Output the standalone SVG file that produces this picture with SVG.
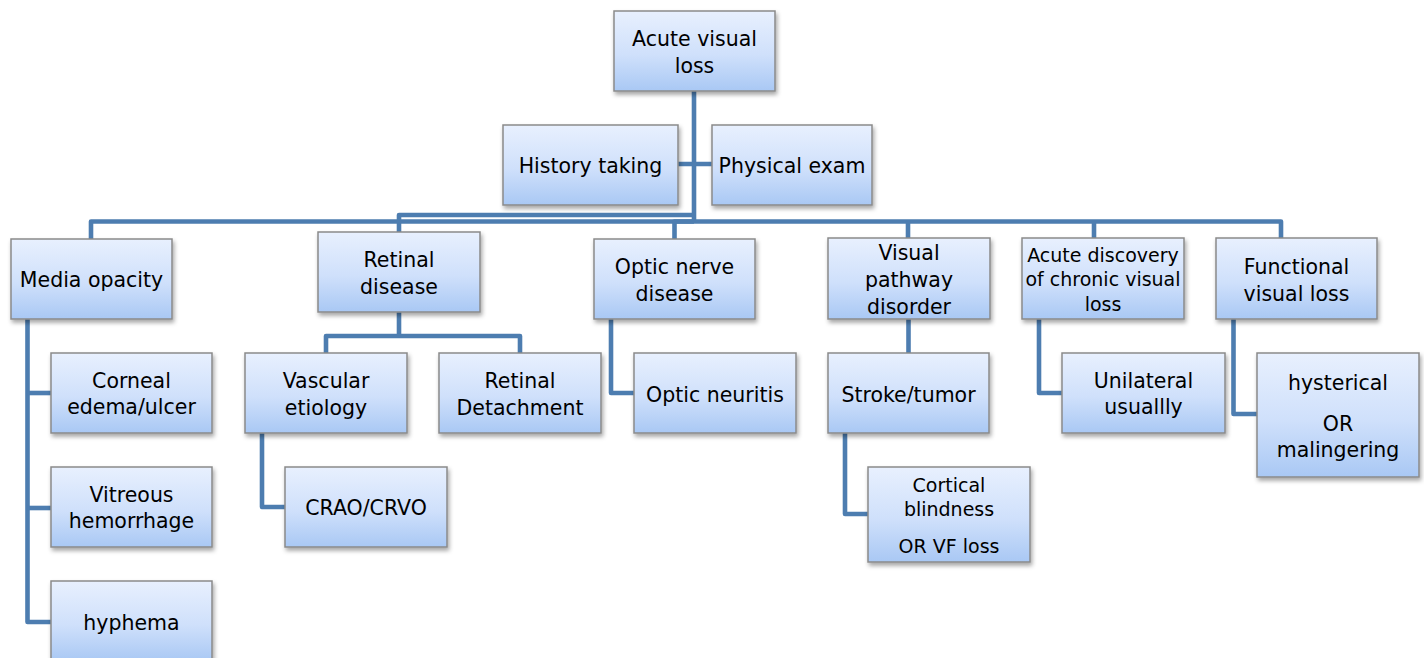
<svg xmlns="http://www.w3.org/2000/svg" width="1424" height="658" viewBox="0 0 1424 658">
<defs>
<linearGradient id="g" x1="0" y1="0" x2="0" y2="1">
<stop offset="0" stop-color="#e8f0fe"/>
<stop offset="0.55" stop-color="#cfe0fb"/>
<stop offset="1" stop-color="#a9c8f4"/>
</linearGradient>
<filter id="sh" x="-10%" y="-10%" width="125%" height="135%">
<feDropShadow dx="1.5" dy="3" stdDeviation="2" flood-color="#000" flood-opacity="0.35"/>
</filter>
</defs>
<style>
.box{fill:url(#g);stroke:#8a8a8a;stroke-width:1.5;filter:url(#sh)}
.t{font-family:"DejaVu Sans","Open Sans",sans-serif;font-size:20.5px;fill:#000;text-anchor:middle}
.s{font-size:19px}
.c{fill:none;stroke:#4d7db0;stroke-width:4.6;stroke-linejoin:round;stroke-linecap:butt}
</style>
<rect width="1424" height="658" fill="#fff"/>
<g id="connectors">
<path class="c" d="M694 91 V223"/>
<path class="c" d="M678 164 H712"/>
<path class="c" d="M694 215 H399 V232"/>
<path class="c" d="M694 221.5 H91 V239"/>
<path class="c" d="M694 221.5 H674.5 V239"/>
<path class="c" d="M694 221.5 H1281 V238"/>
<path class="c" d="M908 221.5 V238"/>
<path class="c" d="M1094 221.5 V238"/>
<path class="c" d="M27.5 319 V622 H51"/>
<path class="c" d="M27.5 393 H51"/>
<path class="c" d="M27.5 508 H51"/>
<path class="c" d="M399 312 V336"/>
<path class="c" d="M326 353 V336 H520 V353"/>
<path class="c" d="M262 433 V507 H285"/>
<path class="c" d="M611 319 V393 H634"/>
<path class="c" d="M908.5 319 V353"/>
<path class="c" d="M845 433 V514 H868"/>
<path class="c" d="M1039 319 V393 H1062"/>
<path class="c" d="M1233.5 319 V414 H1257"/>
</g>
<g id="n-root"><rect class="box" x="614" y="11" width="161" height="80"/><text class="t" x="694.5" y="46">Acute visual</text><text class="t" x="694.5" y="73">loss</text></g>
<g id="n-history"><rect class="box" x="503" y="125" width="175" height="80"/><text class="t" x="590.5" y="173">History taking</text></g>
<g id="n-physical"><rect class="box" x="712" y="125" width="160" height="80"/><text class="t" x="792" y="173">Physical exam</text></g>
<g id="n-media"><rect class="box" x="11" y="239" width="161" height="80"/><text class="t" x="91.5" y="287">Media opacity</text></g>
<g id="n-retinal"><rect class="box" x="318" y="232" width="162" height="80"/><text class="t" x="399" y="267">Retinal</text><text class="t" x="399" y="294">disease</text></g>
<g id="n-optic"><rect class="box" x="594" y="239" width="161" height="80"/><text class="t" x="674.5" y="274">Optic nerve</text><text class="t" x="674.5" y="301">disease</text></g>
<g id="n-pathway"><rect class="box" x="828" y="238" width="162" height="81"/><text class="t" x="909" y="260">Visual</text><text class="t" x="909" y="287">pathway</text><text class="t" x="909" y="314">disorder</text></g>
<g id="n-chronic"><rect class="box" x="1022" y="238" width="162" height="81"/><text class="t s" x="1103" y="262">Acute discovery</text><text class="t s" x="1103" y="286">of chronic visual</text><text class="t s" x="1103" y="311">loss</text></g>
<g id="n-functional"><rect class="box" x="1216" y="238" width="161" height="81"/><text class="t" x="1296.5" y="274">Functional</text><text class="t" x="1296.5" y="301">visual loss</text></g>
<g id="n-corneal"><rect class="box" x="51" y="353" width="161" height="80"/><text class="t" x="131.5" y="388">Corneal</text><text class="t" x="131.5" y="414">edema/ulcer</text></g>
<g id="n-vitreous"><rect class="box" x="51" y="467" width="161" height="80"/><text class="t" x="131.5" y="502">Vitreous</text><text class="t" x="131.5" y="528">hemorrhage</text></g>
<g id="n-hyphema"><rect class="box" x="51" y="581" width="161" height="80"/><text class="t" x="131.5" y="630">hyphema</text></g>
<g id="n-vascular"><rect class="box" x="245" y="353" width="162" height="80"/><text class="t" x="326" y="388">Vascular</text><text class="t" x="326" y="415">etiology</text></g>
<g id="n-detachment"><rect class="box" x="439" y="353" width="162" height="80"/><text class="t" x="520" y="388">Retinal</text><text class="t" x="520" y="415">Detachment</text></g>
<g id="n-crao"><rect class="box" x="285" y="467" width="162" height="80"/><text class="t" x="366" y="515">CRAO/CRVO</text></g>
<g id="n-neuritis"><rect class="box" x="634" y="353" width="162" height="80"/><text class="t" x="715" y="402">Optic neuritis</text></g>
<g id="n-stroke"><rect class="box" x="828" y="353" width="161" height="80"/><text class="t" x="908.5" y="402">Stroke/tumor</text></g>
<g id="n-cortical"><rect class="box" x="868" y="467" width="162" height="95"/><text class="t s" x="949" y="492">Cortical</text><text class="t s" x="949" y="516">blindness</text><text class="t s" x="949" y="553">OR VF loss</text></g>
<g id="n-unilateral"><rect class="box" x="1062" y="353" width="163" height="80"/><text class="t" x="1143.5" y="388">Unilateral</text><text class="t" x="1143.5" y="414">usuallly</text></g>
<g id="n-hysterical"><rect class="box" x="1257" y="353" width="162" height="124"/><text class="t" x="1338" y="390">hysterical</text><text class="t" x="1338" y="431">OR</text><text class="t" x="1338" y="457">malingering</text></g>
</svg>
